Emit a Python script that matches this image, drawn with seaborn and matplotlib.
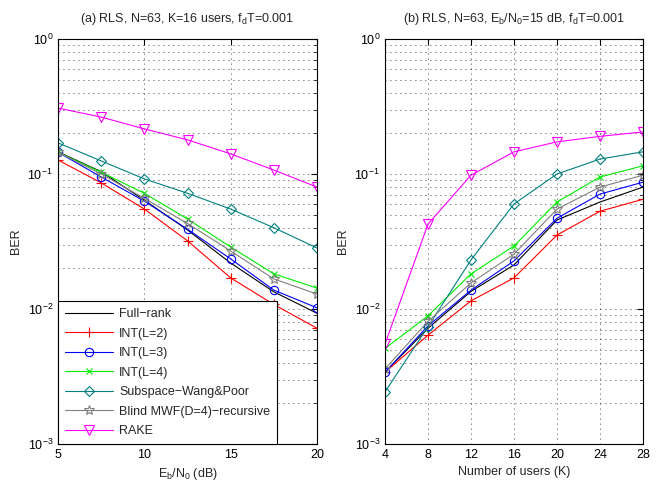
import numpy as np
import pandas as pd
import matplotlib
matplotlib.use("Agg")
import matplotlib.pyplot as plt
import seaborn as sns
from matplotlib.ticker import LogLocator, NullFormatter

# SNR sweep (panel a)
snr_db = [5, 7.5, 10, 12.5, 15, 17.5, 20]
a_fullrank = [0.146, 0.104, 0.064, 0.0385, 0.0219, 0.0134, 0.0093]
a_int2 = [0.127, 0.086, 0.055, 0.032, 0.0170, 0.0108, 0.0072]
a_int3 = [0.145, 0.095, 0.063, 0.039, 0.0235, 0.0138, 0.0102]
a_int4 = [0.145, 0.103, 0.072, 0.0464, 0.0288, 0.0182, 0.0143]
a_subspace = [0.170, 0.125, 0.092, 0.072, 0.055, 0.040, 0.0283]
a_mwf = [0.145, 0.100, 0.066, 0.043, 0.0269, 0.0167, 0.0129]
a_rake = [0.308, 0.264, 0.216, 0.179, 0.141, 0.107, 0.080]

# users sweep (panel b)
users = [4, 8, 12, 16, 20, 24, 28]
b_fullrank = [0.0034, 0.0072, 0.0135, 0.0212, 0.0456, 0.062, 0.080]
b_int2 = [0.0034, 0.0064, 0.0115, 0.0170, 0.0353, 0.053, 0.065]
b_int3 = [0.0034, 0.0075, 0.0138, 0.0227, 0.047, 0.071, 0.087]
b_int4 = [0.0051, 0.0089, 0.0182, 0.0293, 0.062, 0.095, 0.115]
b_subspace = [0.00243, 0.0074, 0.0231, 0.060, 0.100, 0.129, 0.146]
b_mwf = [0.0036, 0.0081, 0.0156, 0.0255, 0.055, 0.080, 0.098]
b_rake = [0.0055, 0.0426, 0.098, 0.146, 0.173, 0.190, 0.205]

names = ["Full\u2212rank", "INT(L=2)", "INT(L=3)", "INT(L=4)",
         "Subspace\u2212Wang&Poor", "Blind MWF(D=4)\u2212recursive", "RAKE"]
colors = ["black", "#ff0000", "#0000ff", "#00ee00", "#008080", "#808080", "#ff00ff"]
markers = [None, "+", "o", "x", "D", "*", "v"]
msizes = [0, 7, 6, 5, 5.5, 7, 7]

sns.set_style("white")
plt.rcParams["font.family"] = ["Liberation Sans", "DejaVu Sans"]
plt.rcParams["mathtext.default"] = "regular"
plt.rcParams["font.size"] = 9

fig = plt.figure(figsize=(6.6, 4.83), dpi=100)
ax1 = fig.add_axes([58 / 660, 39 / 483, 259 / 660, 405 / 483])
ax2 = fig.add_axes([385 / 660, 39 / 483, 258 / 660, 405 / 483])

series_a = [a_fullrank, a_int2, a_int3, a_int4, a_subspace, a_mwf, a_rake]
series_b = [b_fullrank, b_int2, b_int3, b_int4, b_subspace, b_mwf, b_rake]

for ax, xv, allys in [(ax1, snr_db, series_a), (ax2, users, series_b)]:
    for name, ys, c, m, ms in zip(names, allys, colors, markers, msizes):
        kw = dict(color=c, linewidth=0.8, ax=ax)
        if m is not None:
            kw.update(marker=m, markersize=ms, markerfacecolor="none",
                      markeredgecolor=c, markeredgewidth=0.8)
        sns.lineplot(x=xv, y=ys, label=name if ax is ax1 else None,
                     legend=False, **kw)

for ax in (ax1, ax2):
    ax.set_yscale("log")
    ax.set_ylim(1e-3, 1)
    ax.yaxis.set_major_locator(LogLocator(base=10, numticks=10))
    ax.yaxis.set_minor_locator(LogLocator(base=10, subs=np.arange(2, 10), numticks=20))
    ax.yaxis.set_minor_formatter(NullFormatter())
    ax.tick_params(which="both", direction="in", top=True, right=True,
                   labelsize=9, colors="black")
    ax.tick_params(which="major", length=4)
    ax.tick_params(which="minor", length=2)
    ax.grid(True, which="both", axis="y", color="black",
            linestyle=(0, (1, 5)), linewidth=0.6)
    ax.grid(True, which="major", axis="x", color="black",
            linestyle=(0, (1, 5)), linewidth=0.6)
    for s in ax.spines.values():
        s.set_color("black")
        s.set_linewidth(0.8)
    ax.set_ylabel("BER", fontsize=9)

ax1.set_xlim(5, 20)
ax1.set_xticks([5, 10, 15, 20])
ax1.set_xlabel("E$_b$/N$_0$ (dB)", fontsize=9)
ax1.set_title("(a) RLS, N=63, K=16 users, f$_d$T=0.001", fontsize=9, pad=12)

ax2.set_xlim(4, 28)
ax2.set_xticks(users)
ax2.set_xlabel("Number of users (K)", fontsize=9)
ax2.set_title("(b) RLS, N=63, E$_b$/N$_0$=15 dB, f$_d$T=0.001", fontsize=9, pad=12)

h, l = ax1.get_legend_handles_labels()
leg = ax1.legend(h, l, loc="lower left", borderaxespad=0, fancybox=False,
                 framealpha=1, edgecolor="black", fontsize=9,
                 handlelength=3.85, handletextpad=0.5, labelspacing=0.6,
                 borderpad=0.55)
leg.get_frame().set_linewidth(0.8)

fig.savefig("out.png", dpi=100)
